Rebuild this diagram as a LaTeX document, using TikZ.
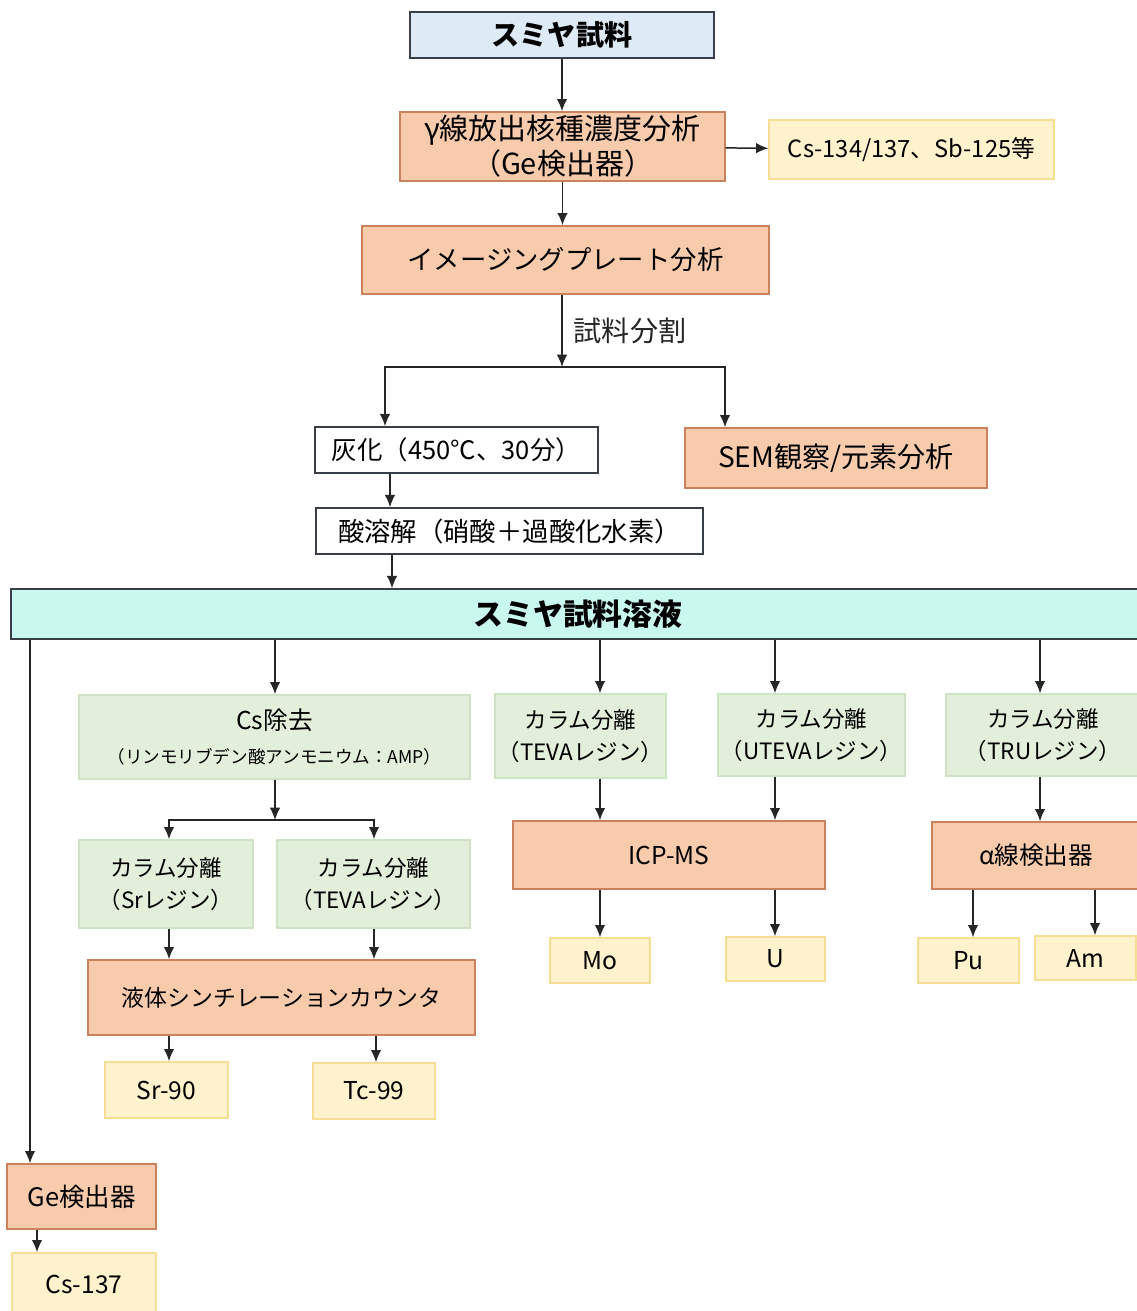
\documentclass[tikz,border=0pt]{standalone}
\usepackage{fontspec}
\setmainfont{Noto Sans CJK JP}
\usetikzlibrary{arrows.meta,positioning}

\definecolor{skyfill}{HTML}{DEEAF6}
\definecolor{cyanfill}{HTML}{C9F8EE}
\definecolor{orfill}{HTML}{F8CBAD}
\definecolor{orline}{HTML}{C9825B}
\definecolor{yefill}{HTML}{FFF2CC}
\definecolor{yeline}{HTML}{F7DE95}
\definecolor{grfill}{HTML}{E2EFDA}
\definecolor{grline}{HTML}{D0E2C4}
\definecolor{darkline}{HTML}{3A3F47}

\begin{document}
\begin{tikzpicture}[x=0.02cm, y=-0.02cm,
    box/.style={draw, align=center, inner sep=0.5pt},
    head/.style={box, fill=skyfill, draw=darkline, line width=0.9pt, font=\fontsize{16}{19}\selectfont\bfseries},
    proc/.style={box, fill=orfill, draw=orline, line width=0.8pt, font=\fontsize{14}{17}\selectfont},
    plain/.style={box, fill=white, draw=darkline, line width=0.9pt, font=\fontsize{15}{18}\selectfont},
    res/.style={box, fill=yefill, draw=yeline, line width=0.8pt, font=\fontsize{14}{17}\selectfont},
    col/.style={box, fill=grfill, draw=grline, line width=0.8pt, font=\fontsize{12.8}{18}\selectfont},
    arr/.style={-{Latex[length=7pt,width=6pt]}, line width=0.85pt, black!85},
    lbl/.style={font=\fontsize{16}{19}\selectfont}
]
\useasboundingbox (0,0) rectangle (1136,1311);

% upper part
\node[head, minimum width=6.08cm, minimum height=0.92cm] (smp) at (562,35) {スミヤ試料};
\node[proc, minimum width=6.5cm, minimum height=1.38cm, font=\fontsize{16.5}{20}\selectfont] (gam) at (562.5,146.5) {γ線放出核種濃度分析\\（Ge検出器）};
\node[res, minimum width=5.7cm, minimum height=1.18cm, font=\fontsize{13.5}{16}\selectfont] (nuc) at (911.5,149.5) {Cs-134/137、Sb-125等};
\node[proc, minimum width=8.14cm, minimum height=1.36cm, font=\fontsize{15}{18}\selectfont] (ipa) at (565.5,260) {イメージングプレート分析};
\coordinate (spl) at (562,367);
\node[plain, minimum width=5.66cm, minimum height=0.92cm, font=\fontsize{14.5}{17}\selectfont] (ash) at (456.5,450) {灰化（450℃、30分）};
\node[proc, minimum width=6.04cm, minimum height=1.2cm, font=\fontsize{16}{19}\selectfont] (sem) at (836,458) {SEM観察/元素分析};
\node[plain, minimum width=7.74cm, minimum height=0.92cm] (acd) at (509.5,531) {酸溶解（硝酸＋過酸化水素）};
\node[head, fill=cyanfill, minimum width=22.68cm, minimum height=1.0cm, font=\fontsize{17}{20}\selectfont\bfseries] (sol) at (578,614) {スミヤ試料溶液};

\draw[arr] (smp) -- (smp.south |- gam.north);
\draw[arr] (gam) -- (nuc);
\draw[arr] (gam.south) -- (gam.south |- ipa.north);
\draw[arr] (ipa.south -| spl) -- node[lbl, right=3pt] {試料分割} (spl);
\draw[arr] (spl) -| (385,0 |- ash.north);
\draw[arr] (spl) -| (725,0 |- sem.north);
\draw[arr] (390,0 |- ash.south) -- (390,0 |- acd.north);
\draw[arr] (392,0 |- acd.south) -- (392,0 |- sol.north);

% separation columns
\node[col, minimum width=7.82cm, minimum height=1.68cm] (csr) at (274.5,737) {{\fontsize{14}{16}\selectfont Cs除去}\\[1pt]{\fontsize{10}{12}\selectfont （リンモリブデン酸アンモニウム：AMP）}};
\node[col, minimum width=3.42cm, minimum height=1.68cm] (tv1) at (580.5,736) {カラム分離\\（TEVAレジン）};
\node[col, minimum width=3.74cm, minimum height=1.64cm] (utv) at (811.5,735) {カラム分離\\（UTEVAレジン）};
\node[col, minimum width=3.88cm, minimum height=1.64cm] (tru) at (1043,735) {カラム分離\\（TRUレジン）};
\coordinate (csp) at (275,820);
\node[col, minimum width=3.48cm, minimum height=1.76cm] (src) at (166,884) {カラム分離\\（Srレジン）};
\node[col, minimum width=3.86cm, minimum height=1.76cm] (tv2) at (373.5,884) {カラム分離\\（TEVAレジン）};
\node[proc, minimum width=7.74cm, minimum height=1.5cm, font=\fontsize{13}{15}\selectfont] (lsc) at (281.5,997.5) {液体シンチレーションカウンタ};
\node[res, minimum width=2.46cm, minimum height=1.12cm] (s90) at (166.5,1090) {Sr-90};
\node[res, minimum width=2.44cm, minimum height=1.12cm] (t99) at (374,1091) {Tc-99};
\node[proc, minimum width=6.24cm, minimum height=1.36cm] (icp) at (669,855) {ICP-MS};
\node[proc, minimum width=4.16cm, minimum height=1.34cm] (alp) at (1036,855.5) {α線検出器};
\node[res, minimum width=2.0cm, minimum height=0.9cm] (mo) at (600,960.5) {Mo};
\node[res, minimum width=1.98cm, minimum height=0.88cm] (u) at (775.5,959) {U};
\node[res, minimum width=2.02cm, minimum height=0.9cm] (pu) at (968.5,960.5) {Pu};
\node[res, minimum width=2.02cm, minimum height=0.88cm] (am) at (1085.5,958) {Am};
\node[proc, minimum width=2.98cm, minimum height=1.3cm, font=\fontsize{14.5}{17}\selectfont] (ged) at (81.5,1196.5) {Ge検出器};
\node[res, minimum width=2.88cm, minimum height=1.24cm] (c37) at (84,1284) {Cs-137};

\draw[arr] (30,0 |- sol.south) -- (30,0 |- ged.north);
\draw[arr] (275,0 |- sol.south) -- (275,0 |- csr.north);
\draw[arr] (600,0 |- sol.south) -- (600,0 |- tv1.north);
\draw[arr] (775,0 |- sol.south) -- (775,0 |- utv.north);
\draw[arr] (1040,0 |- sol.south) -- (1040,0 |- tru.north);
\draw[arr] (csr.south -| csp) -- (csp);
\draw[arr] (csp) -| (169,0 |- src.north);
\draw[arr] (csp) -| (374,0 |- tv2.north);
\draw[arr] (169,0 |- src.south) -- (169,0 |- lsc.north);
\draw[arr] (374,0 |- tv2.south) -- (374,0 |- lsc.north);
\draw[arr] (169,0 |- lsc.south) -- (169,0 |- s90.north);
\draw[arr] (376,0 |- lsc.south) -- (376,0 |- t99.north);
\draw[arr] (600,0 |- tv1.south) -- (600,0 |- icp.north);
\draw[arr] (775,0 |- utv.south) -- (775,0 |- icp.north);
\draw[arr] (600,0 |- icp.south) -- (600,0 |- mo.north);
\draw[arr] (775,0 |- icp.south) -- (775,0 |- u.north);
\draw[arr] (1040,0 |- tru.south) -- (1040,0 |- alp.north);
\draw[arr] (973,0 |- alp.south) -- (973,0 |- pu.north);
\draw[arr] (1095,0 |- alp.south) -- (1095,0 |- am.north);
\draw[arr] (37,0 |- ged.south) -- (37,0 |- c37.north);
\end{tikzpicture}
\end{document}
